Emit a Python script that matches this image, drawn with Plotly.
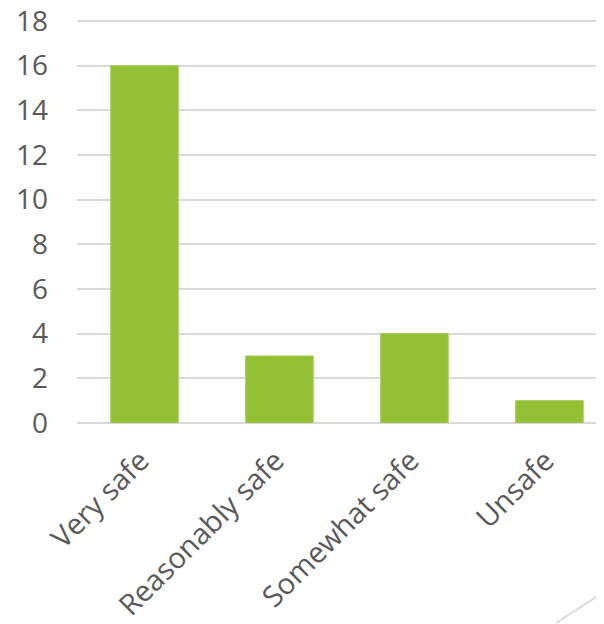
import plotly.graph_objects as go

categories = ["Very safe", "Reasonably safe", "Somewhat safe", "Unsafe"]
values = [16, 3, 4, 1]
y_ticks = [0, 2, 4, 6, 8, 10, 12, 14, 16, 18]

fig = go.Figure()
fig.add_trace(go.Bar(
    x=list(range(len(categories))),
    y=values,
    width=0.5,
    marker=dict(color="#93c035", line=dict(color="#a3cd52", width=1)),
    hoverinfo="x+y",
))

font_family = "Open Sans, Noto Sans, DejaVu Sans, sans-serif"

# page body has an 8px margin, so the figure is offset by (8, 8)
fig.update_layout(
    width=604, height=624,
    margin=dict(l=69, r=8, t=8, b=209, autoexpand=False),
    paper_bgcolor="white", plot_bgcolor="white",
    showlegend=False,
    font=dict(family=font_family, color="#595959", size=28),
    xaxis=dict(
        tickmode="array",
        tickvals=list(range(len(categories))),
        ticktext=categories,
        range=[-0.5, 3.404],
        tickangle=-45,
        showgrid=False, zeroline=False, showline=False,
        ticks="",
        automargin=False,
        ticklabeloverflow="allow",
        ticklabelstandoff=14,
        ticklabelshift=-4,
        tickfont=dict(family=font_family, size=29, color="#595959"),
    ),
    yaxis=dict(
        range=[0, 18.224],
        tickmode="array",
        tickvals=y_ticks,
        showgrid=True, gridcolor="#d9d9d9", gridwidth=2,
        zeroline=True, zerolinecolor="#d9d9d9", zerolinewidth=2,
        showline=False, ticks="",
        automargin=False,
        ticklabeloverflow="allow",
        ticklabelstandoff=28,
        tickfont=dict(family=font_family, size=28, color="#595959"),
    ),
    shapes=[dict(type="line", xref="paper", yref="paper",
                 x0=(556 - 77) / 527, y0=(423 - 623) / 407,
                 x1=(604 - 77) / 527, y1=(423 - 592) / 407,
                 line=dict(color="#d9d9d9", width=2))],
)

fig.write_html("out.html")
